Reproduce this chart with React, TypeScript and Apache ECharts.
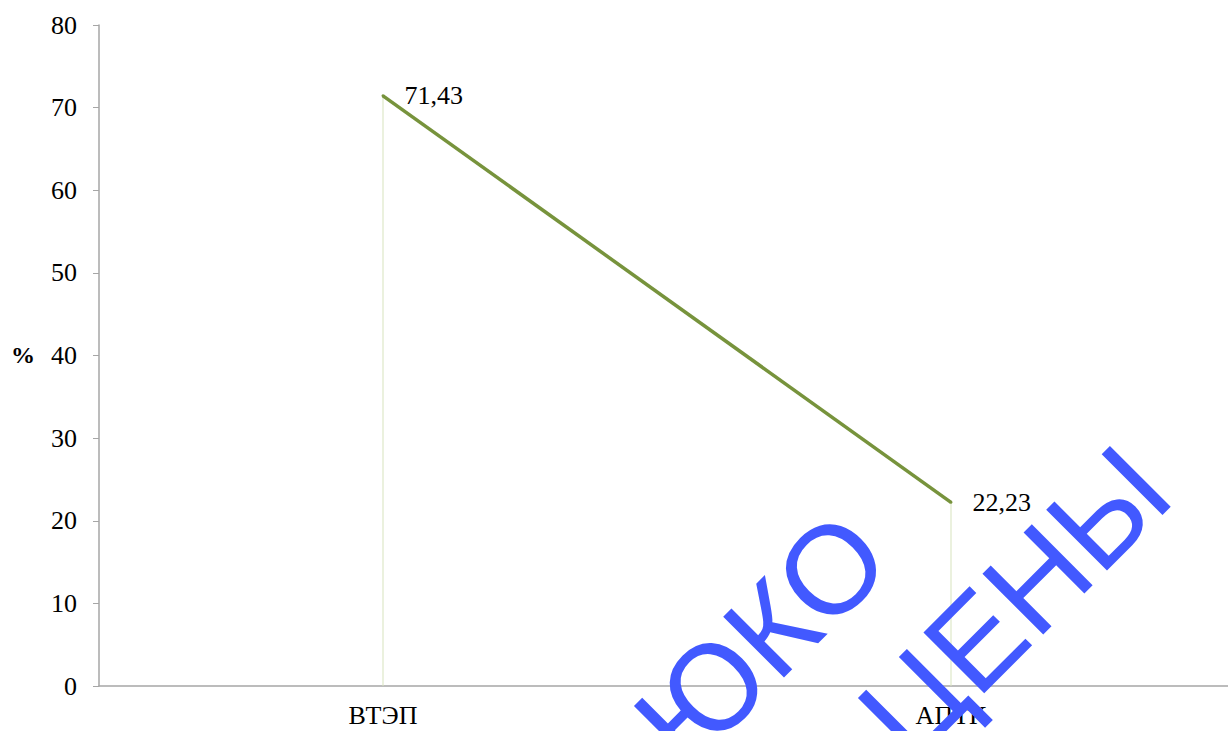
import React, { useEffect, useRef } from "react";
import * as echarts from "echarts";

const categories = ["ВТЭП", "АПТК"];
const values = [71.43, 22.23];
const valueLabels = ["71,43", "22,23"];
const yTicks = [0, 10, 20, 30, 40, 50, 60, 70, 80];
const watermark = ["ЮКО", "ЦЕНЫ"];

export default function App() {
  const ref = useRef<HTMLDivElement>(null);
  useEffect(() => {
    if (!ref.current) return;
    const chart = echarts.init(ref.current, undefined, { renderer: "svg" });
    const font = "Liberation Serif";
    const sans = "Liberation Sans";
    chart.setOption({
      animation: false,
      backgroundColor: "#ffffff",
      grid: { left: 99, right: 0, top: 25, bottom: 45, containLabel: false },
      xAxis: {
        type: "category",
        data: categories,
        boundaryGap: true,
        axisLine: { lineStyle: { color: "#a6a6a6", width: 1.5 } },
        axisTick: { show: false },
        axisLabel: { color: "#000", fontFamily: font, fontSize: 26, margin: 16 },
        splitLine: { show: false },
      },
      yAxis: {
        type: "value",
        min: yTicks[0],
        max: yTicks[yTicks.length - 1],
        interval: 10,
        axisLine: { show: true, lineStyle: { color: "#a6a6a6", width: 1.5 } },
        axisTick: { show: true, length: 6, lineStyle: { color: "#a6a6a6" } },
        axisLabel: { color: "#000", fontFamily: font, fontSize: 26, margin: 22 },
        splitLine: { show: false },
      },
      series: [
        {
          type: "bar",
          data: values,
          barWidth: 1,
          itemStyle: { color: "#d7e4bd" },
          silent: true,
          z: 1,
        },
        {
          type: "line",
          data: values,
          symbol: "circle",
          symbolSize: 3,
          showSymbol: true,
          itemStyle: { color: "#77933c" },
          lineStyle: { color: "#77933c", width: 3.5 },
          z: 3,
          label: {
            show: true,
            position: "right",
            distance: 20,
            color: "#000",
            fontFamily: font,
            fontSize: 26,
            formatter: (p: any) => valueLabels[p.dataIndex],
          },
        },
      ],
      graphic: [
        {
          type: "text",
          left: 11,
          top: 343,
          style: { text: "%", fontFamily: font, fontSize: 24, fontWeight: "bold", fill: "#000" },
        },
        {
          type: "text",
          x: 761,
          y: 639,
          rotation: Math.PI / 4,
          z: 100,
          style: {
            text: watermark[0],
            fontFamily: sans,
            fontSize: 125,
            fill: "#4259ff",
            align: "center",
            verticalAlign: "middle",
          },
        },
        {
          type: "text",
          x: 1014,
          y: 602,
          rotation: Math.PI / 4,
          z: 100,
          style: {
            text: watermark[1],
            fontFamily: sans,
            fontSize: 125,
            fill: "#4259ff",
            align: "center",
            verticalAlign: "middle",
          },
        },
      ],
    });
    return () => chart.dispose();
  }, []);
  return (
    <div style={{ position: "fixed", left: 0, top: 0, width: 1228, height: 731, overflow: "hidden" }}>
      <div ref={ref} style={{ width: 1235, height: 731 }} />
    </div>
  );
}
